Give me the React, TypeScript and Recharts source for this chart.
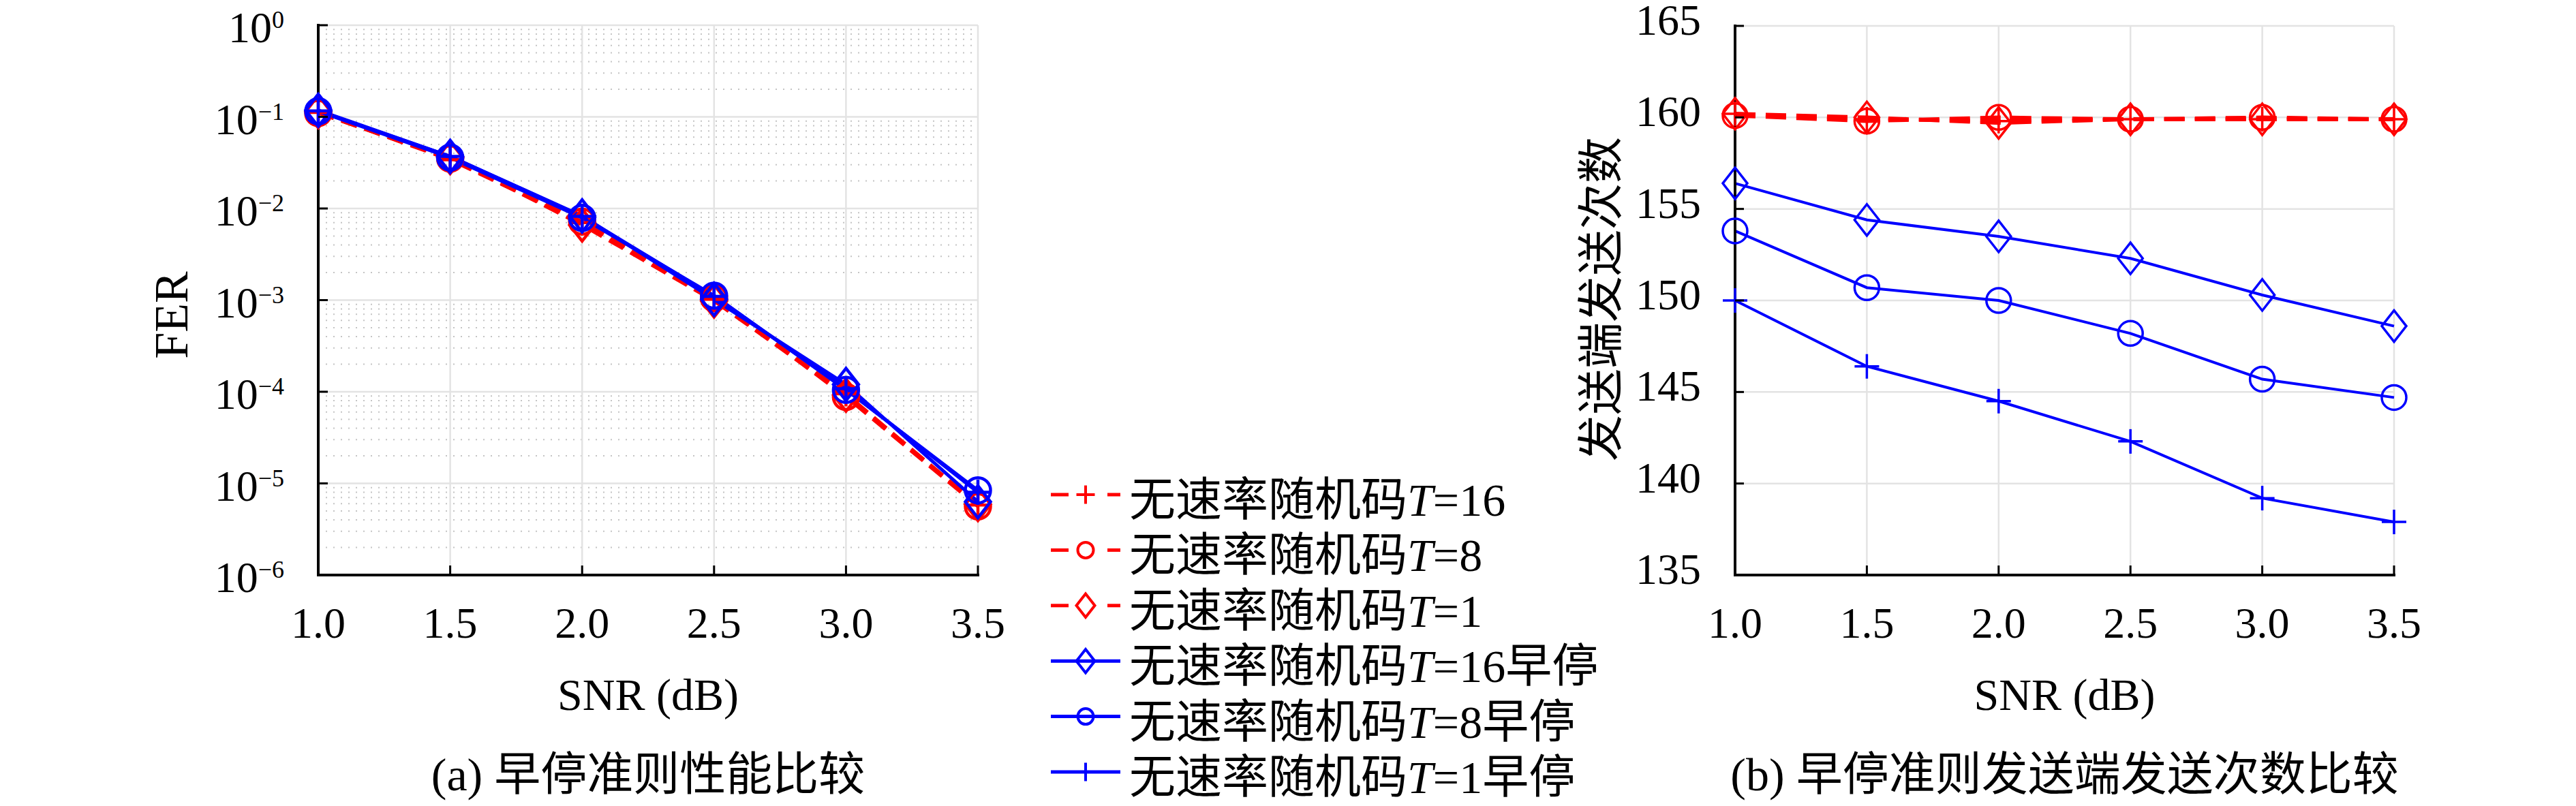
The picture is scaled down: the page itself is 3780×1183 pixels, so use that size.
import React from 'react';
import { LineChart, Line, XAxis, YAxis, CartesianGrid, Label } from 'recharts';

// SNR points (dB)
const snr = [1.0, 1.5, 2.0, 2.5, 3.0, 3.5];
const snrTicks = [1.0, 1.5, 2.0, 2.5, 3.0, 3.5];

// (a) FER
const ferT16 = [0.112, 0.034, 0.007, 0.00102, 9.5e-5, 5.8e-6];
const ferT8 = [0.11, 0.035, 0.0072, 0.00105, 8.8e-5, 5.6e-6];
const ferT1 = [0.114, 0.036, 0.0066, 0.00098, 9.2e-5, 5.9e-6];
const ferT16Es = [0.118, 0.037, 0.0083, 0.00102, 1.2e-4, 6.3e-6];
const ferT8Es = [0.115, 0.036, 0.0079, 0.00112, 1.05e-4, 8.4e-6];
const ferT1Es = [0.116, 0.037, 0.0082, 0.0011, 1.08e-4, 8.0e-6];
const ferMajorTicks = [1e-6, 1e-5, 1e-4, 1e-3, 1e-2, 1e-1, 1];
const ferDecades = [1e-6, 1e-5, 1e-4, 1e-3, 1e-2, 1e-1];
const ferMantissas = [2, 3, 4, 5, 6, 7, 8, 9];
const ferMinorTicks = ferDecades.flatMap((d) => ferMantissas.map((m) => m * d));

// (b) number of transmissions at the sender
const txT16 = [160.2, 159.9, 159.8, 159.9, 159.9, 159.9];
const txT8 = [160.1, 159.8, 160.0, 159.9, 160.0, 159.9];
const txT1 = [160.2, 160.0, 159.7, 159.9, 159.9, 159.9];
const txT16Es = [156.4, 154.4, 153.5, 152.3, 150.3, 148.6];
const txT8Es = [153.8, 150.7, 150.0, 148.2, 145.7, 144.7];
const txT1Es = [150.0, 146.4, 144.5, 142.3, 139.2, 137.9];
const txTicks = [135, 140, 145, 150, 155, 160, 165];

const seriesKeys = ['t16', 't8', 't1', 't16es', 't8es', 't1es'];
const seriesT = ['16', '8', '1', '16', '8', '1'];
const seriesSuffix = ['', '', '', '早停', '早停', '早停'];
const seriesColor = ['#ff0000', '#ff0000', '#ff0000', '#0000ff', '#0000ff', '#0000ff'];
const seriesMarker = ['plus', 'circle', 'diamond', 'diamond', 'circle', 'plus'];
const seriesDashed = [true, true, true, false, false, false];

const ferData = snr.map((s, i) => ({
    snr: s, t16: ferT16[i], t8: ferT8[i], t1: ferT1[i],
    t16es: ferT16Es[i], t8es: ferT8Es[i], t1es: ferT1Es[i],
}));
const txData = snr.map((s, i) => ({
    snr: s, t16: txT16[i], t8: txT8[i], t1: txT1[i],
    t16es: txT16Es[i], t8es: txT8Es[i], t1es: txT1Es[i],
}));

const FONT = '"Liberation Serif", "Noto Sans CJK SC", serif';

const Marker = ({ cx, cy, shape, color, size, sw }: any) => {
    if (cx == null || cy == null) return null;
    const h = size / 2;
    if (shape === 'circle') {
        return <circle cx={cx} cy={cy} r={h} fill="none" stroke={color} strokeWidth={sw} />;
    }
    if (shape === 'diamond') {
        const v = h * 1.28;
        return <polygon points={`${cx},${cy - v} ${cx + h},${cy} ${cx},${cy + v} ${cx - h},${cy}`} fill="none" stroke={color} strokeWidth={sw} />;
    }
    return (
        <g stroke={color} strokeWidth={sw}>
            <line x1={cx - h} y1={cy} x2={cx + h} y2={cy} />
            <line x1={cx} y1={cy - h} x2={cx} y2={cy + h} />
        </g>
    );
};

const makeDot = (i: number, size: number, sw: number) => (p: any) => (
    <Marker key={`${seriesKeys[i]}-${p.index}`} cx={p.cx} cy={p.cy} shape={seriesMarker[i]} color={seriesColor[i]} size={size} sw={sw} />
);

const LogTick = ({ x, y, payload }: any) => {
    const exp = Math.round(Math.log10(payload.value));
    return (
        <g>
            <line x1={x} y1={y} x2={x + 14} y2={y} stroke="#000" strokeWidth={3} />
            <text x={x - 50} y={y + 25} textAnchor="end" fontFamily={FONT} fontSize={64} fill="#000">
                10<tspan dy={-21} fontSize={36}>{exp === 0 ? '0' : '\u2212' + Math.abs(exp)}</tspan>
            </text>
        </g>
    );
};

const MinorTick = ({ x, y }: any) => (
    <line x1={x} y1={y} x2={x + 8} y2={y} stroke="#000" strokeWidth={3} />
);

const LinTick = ({ x, y, payload }: any) => (
    <g>
        <line x1={x} y1={y} x2={x + 13} y2={y} stroke="#000" strokeWidth={3} />
        <text x={x - 50} y={y + 13} textAnchor="end" fontFamily={FONT} fontSize={64} fill="#000">{payload.value}</text>
    </g>
);

const SnrTick = ({ x, y, payload }: any) => (
    <g>
        <line x1={x} y1={y} x2={x} y2={y - 14} stroke="#000" strokeWidth={3} />
        <text x={x} y={y + 92} textAnchor="middle" fontFamily={FONT} fontSize={64} fill="#000">{Number(payload.value).toFixed(1)}</text>
    </g>
);

const bottomLabels = (caption: string) => ({ viewBox }: any) => {
    const cx = viewBox.x + viewBox.width / 2;
    return (
        <g fontFamily={FONT} fill="#000">
            <text x={cx} y={viewBox.y + 198} textAnchor="middle" fontSize={66}>SNR (dB)</text>
            <text x={cx} y={viewBox.y + 316} textAnchor="middle" fontSize={68}>{caption}</text>
        </g>
    );
};

const sideLabel = (text: string, dx: number, dy: number, size: number) => ({ viewBox }: any) => {
    const x = viewBox.x + viewBox.width - dx;
    const y = viewBox.y + viewBox.height / 2 + dy;
    return (
        <text x={x} y={y} transform={`rotate(-90, ${x}, ${y})`} textAnchor="middle" fontFamily={FONT} fontSize={size} fill="#000">{text}</text>
    );
};

const boxLine = { stroke: '#000', strokeWidth: 4, strokeLinecap: 'square' as const };

const FerChart = () => (
    <LineChart width={1500} height={1183} data={ferData} margin={{ top: 37, right: 65, bottom: 239, left: 267 }}>
        <CartesianGrid yAxisId="minor" vertical={false} stroke="#c4c4c4" strokeWidth={2} strokeDasharray="2 9" />
        <CartesianGrid yAxisId="major" stroke="#e3e3e3" strokeWidth={2.5} />
        <XAxis dataKey="snr" type="number" domain={[1, 3.5]} ticks={snrTicks} interval={0} height={100}
            tickSize={0} tickMargin={0} tickLine={false} tick={<SnrTick />} axisLine={boxLine}>
            <Label content={bottomLabels('(a) 早停准则性能比较')} />
        </XAxis>
        <XAxis xAxisId="top" orientation="top" dataKey="snr" type="number" domain={[1, 3.5]} height={0} tick={false} tickLine={false} axisLine={boxLine} />
        <YAxis yAxisId="major" type="number" scale="log" domain={[1e-6, 1]} allowDataOverflow ticks={ferMajorTicks} interval={0}
            width={200} tickSize={0} tickMargin={0} tickLine={false} tick={<LogTick />} axisLine={boxLine}>
            <Label content={sideLabel('FER', 192, 22, 70)} />
        </YAxis>
        <YAxis yAxisId="minor" type="number" scale="log" domain={[1e-6, 1]} allowDataOverflow ticks={ferMinorTicks} interval={0}
            width={0} tickSize={0} tickMargin={0} tickLine={false} tick={<MinorTick />} axisLine={false} />
        <YAxis yAxisId="right" orientation="right" width={0} tick={false} tickLine={false} axisLine={boxLine} />
        {seriesKeys.map((k, i) => (
            <Line key={k} yAxisId="major" dataKey={k} stroke={seriesColor[i]} strokeWidth={5}
                strokeDasharray={seriesDashed[i] ? '24 12' : undefined}
                dot={makeDot(i, 37, 4.5)} activeDot={false} isAnimationActive={false} />
        ))}
    </LineChart>
);

const TxChart = () => (
    <LineChart width={1600} height={1183} data={txData} margin={{ top: 38, right: 87, bottom: 239, left: 346 }}>
        <CartesianGrid stroke="#e3e3e3" strokeWidth={2.5} />
        <XAxis dataKey="snr" type="number" domain={[1, 3.5]} ticks={snrTicks} interval={0} height={100}
            tickSize={0} tickMargin={0} tickLine={false} tick={<SnrTick />} axisLine={boxLine}>
            <Label content={bottomLabels('(b) 早停准则发送端发送次数比较')} />
        </XAxis>
        <XAxis xAxisId="top" orientation="top" dataKey="snr" type="number" domain={[1, 3.5]} height={0} tick={false} tickLine={false} axisLine={boxLine} />
        <YAxis type="number" domain={[135, 165]} allowDataOverflow ticks={txTicks} interval={0}
            width={200} tickSize={0} tickMargin={0} tickLine={false} tick={<LinTick />} axisLine={boxLine}>
            <Label content={sideLabel('发送端发送次数', 173, -2, 68)} />
        </YAxis>
        <YAxis yAxisId="right" orientation="right" width={0} tick={false} tickLine={false} axisLine={boxLine} />
        {seriesKeys.map((k, i) => (
            <Line key={k} dataKey={k} stroke={seriesColor[i]} strokeWidth={seriesDashed[i] ? 5.5 : 4}
                strokeDasharray={seriesDashed[i] ? '30 15' : undefined}
                dot={makeDot(i, 36, 3.5)} activeDot={false} isAnimationActive={false} />
        ))}
    </LineChart>
);

const LegendBox = () => (
    <svg width={900} height={503} style={{ position: 'absolute', left: 1500, top: 680 }}>
        {seriesKeys.map((k, i) => {
            const cy = 46 + i * 81.4;
            return (
                <g key={k}>
                    {seriesDashed[i] ? (
                        <g stroke={seriesColor[i]} strokeWidth={5}>
                            <line x1={42} y1={cy} x2={68} y2={cy} />
                            <line x1={125} y1={cy} x2={144} y2={cy} />
                        </g>
                    ) : (
                        <line x1={42} y1={cy} x2={144} y2={cy} stroke={seriesColor[i]} strokeWidth={5} />
                    )}
                    <Marker cx={93} cy={cy} shape={seriesMarker[i]} color={seriesColor[i]} size={seriesMarker[i] === 'circle' ? 23 : 27} sw={4} />
                    <text x={157} y={cy + 31} fontFamily={FONT} fontSize={68} fill="#000">
                        无速率随机码<tspan fontStyle="italic">T</tspan>={seriesT[i]}{seriesSuffix[i]}
                    </text>
                </g>
            );
        })}
    </svg>
);

export default function App() {
    return (
        <div style={{ position: 'absolute', left: 0, top: 0, width: 3780, height: 1183, background: '#fff' }}>
            <div style={{ position: 'absolute', left: 0, top: 0 }}>
                <FerChart />
            </div>
            <div style={{ position: 'absolute', left: 2000, top: 0 }}>
                <TxChart />
            </div>
            <LegendBox />
        </div>
    );
}
